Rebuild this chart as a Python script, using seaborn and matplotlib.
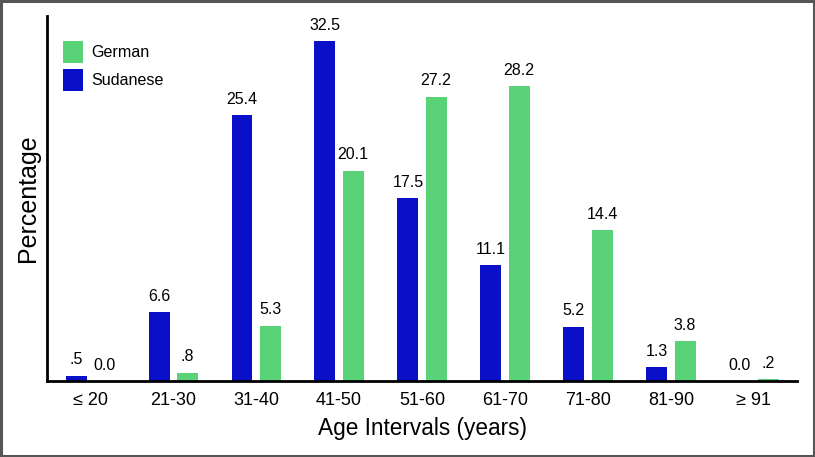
import matplotlib
matplotlib.use("Agg")
import matplotlib.pyplot as plt
from matplotlib.patches import Rectangle, Patch
import seaborn as sns
import pandas as pd

categories = ["≤ 20", "21-30", "31-40", "41-50", "51-60", "61-70", "71-80", "81-90", "≥ 91"]
sudanese = [0.5, 6.6, 25.4, 32.5, 17.5, 11.1, 5.2, 1.3, 0.0]
german = [0.0, 0.8, 5.3, 20.1, 27.2, 28.2, 14.4, 3.8, 0.2]
sudanese_labels = [".5", "6.6", "25.4", "32.5", "17.5", "11.1", "5.2", "1.3", "0.0"]
german_labels = ["0.0", ".8", "5.3", "20.1", "27.2", "28.2", "14.4", "3.8", ".2"]

blue = "#0a10c8"
green = "#5ad378"

df = pd.DataFrame({
    "Age": categories * 2,
    "Pct": sudanese + german,
    "Group": ["Sudanese"] * len(categories) + ["German"] * len(categories),
})

sns.set_style("white")
plt.rcParams["font.family"] = ["Liberation Sans", "DejaVu Sans"]
plt.rcParams["text.color"] = "black"
plt.rcParams["axes.labelcolor"] = "black"
plt.rcParams["xtick.color"] = "black"

fig = plt.figure(figsize=(8.15, 4.57), dpi=100)
ax = fig.add_axes([0.0577, 0.1663, 0.978 - 0.0577, 0.965 - 0.1663])

sns.barplot(data=df, x="Age", y="Pct", hue="Group", hue_order=["Sudanese", "German"],
            palette=[blue, green], width=0.68, gap=0.256, ax=ax, legend=False,
            saturation=1, edgecolor="none")

for cont, labs in zip(ax.containers, [sudanese_labels, german_labels]):
    ax.bar_label(cont, labels=labs, padding=6, fontsize=11.5, color="black")

ax.set_xlim(-0.52, 8.52)
ax.set_ylim(0, 34.9)
ax.set_yticks([])
ax.tick_params(axis="x", length=0, pad=8, labelsize=13)
ax.set_xlabel("Age Intervals (years)", fontsize=16.3, labelpad=6)
ax.set_ylabel("Percentage", fontsize=18, labelpad=5)
for s in ["top", "right"]:
    ax.spines[s].set_visible(False)
for s in ["left", "bottom"]:
    ax.spines[s].set_color("black")
    ax.spines[s].set_linewidth(2)

handles = [Patch(facecolor=green, edgecolor="none"), Patch(facecolor=blue, edgecolor="none")]
leg = ax.legend(handles, ["German", "Sudanese"], loc="upper left", bbox_to_anchor=(0.004, 0.966),
                frameon=False, fontsize=11.6, handlelength=1.25, handleheight=1.65,
                handletextpad=0.5, labelspacing=0.42, borderpad=0.3)

fig.patches.append(Rectangle((0.0015, 0.0025), 0.997, 0.995, transform=fig.transFigure,
                             fill=False, edgecolor="#555555", linewidth=2.2))

fig.savefig("out.png", dpi=100)
